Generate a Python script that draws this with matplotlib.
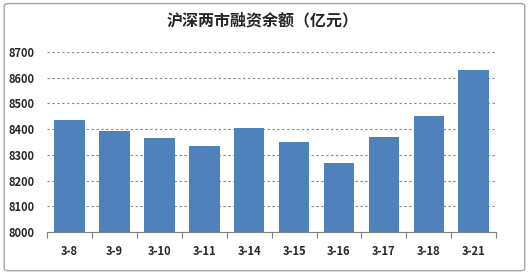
import matplotlib.pyplot as plt
from matplotlib.patches import FancyBboxPatch
import numpy as np

plt.rcParams["font.family"] = ["Noto Sans CJK SC", "DejaVu Sans"]

TITLE = "沪深两市融资余额（亿元）"
DATES = ["3-8", "3-9", "3-10", "3-11", "3-14", "3-15", "3-16", "3-17", "3-18", "3-21"]
BALANCE = [8435, 8393, 8366, 8333, 8405, 8351, 8268, 8371, 8450, 8630]
Y_TICKS = [8000, 8100, 8200, 8300, 8400, 8500, 8600, 8700]

BAR_COLOR = "#4F81BD"


def main() -> None:
    fig = plt.figure(figsize=(5.29, 2.74), dpi=100)
    frame = FancyBboxPatch(
        (0.008, 0.012), 0.984, 0.975,
        boxstyle="round,pad=0,rounding_size=0.008",
        transform=fig.transFigure, facecolor="none",
        edgecolor="#A6A6A6", linewidth=1.0, zorder=10,
    )
    fig.patches.append(frame)

    ax = fig.add_axes([0.089, 0.153, 0.849, 0.657])
    x = np.arange(len(DATES))
    ax.bar(x, BALANCE, width=0.68, color=BAR_COLOR, zorder=3)

    ax.set_ylim(Y_TICKS[0], Y_TICKS[-1])
    ax.set_xlim(-0.5, len(DATES) - 0.5)
    ax.set_yticks(Y_TICKS)
    ax.set_yticklabels([str(v) for v in Y_TICKS], fontsize=8, fontweight="bold", color="#262626")
    ax.tick_params(axis="y", length=0, pad=9)

    ax.set_xticks(np.arange(len(DATES) + 1) - 0.5)
    ax.set_xticklabels([])
    ax.tick_params(axis="x", which="major", length=4, color="#808080", direction="out")
    ax.set_xticks(x, minor=True)
    ax.set_xticklabels(DATES, minor=True, fontsize=8, fontweight="bold", color="#262626")
    ax.tick_params(axis="x", which="minor", length=0, pad=9)

    ax.grid(axis="y", linestyle=(0, (2.2, 2.2)), color="#8C8C8C", linewidth=0.8, zorder=0)
    for side in ["left", "right", "top"]:
        ax.spines[side].set_visible(False)
    ax.spines["bottom"].set_color("#808080")
    ax.spines["bottom"].set_zorder(4)

    fig.text(0.496, 0.925, TITLE, ha="center", va="center", fontsize=11.5,
             fontweight="bold", color="#262626")

    fig.savefig("out.png", dpi=100)
    plt.close(fig)


if __name__ == "__main__":
    main()
